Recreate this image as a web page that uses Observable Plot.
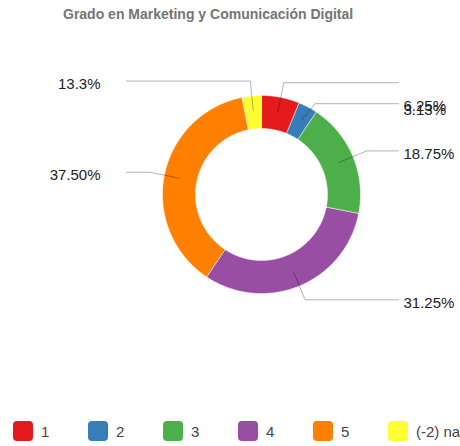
<!DOCTYPE html>
<html><head><meta charset="utf-8">
<script src="https://cdn.jsdelivr.net/npm/d3@7"></script>
<script src="https://cdn.jsdelivr.net/npm/@observablehq/plot@0.6"></script>
<style>
body{margin:0;background:#fff;font-family:"Liberation Sans",Arial,sans-serif}
#title{height:28px;line-height:28px;font-size:14px;font-weight:bold;color:#757575;padding-left:63px;white-space:nowrap}
#legend{position:relative;height:38px}
.item{position:absolute;top:13px;display:flex;align-items:center;font-size:15px;color:#444;white-space:nowrap}
.sw{width:20px;height:20px;border-radius:4px;margin-right:8px;flex:none}
</style>
</head><body>
<div id="title"></div>
<div id="chart"></div>
<div id="legend"></div>
<script>
const title = "Grado en Marketing y Comunicación Digital";
const categories = ["1", "2", "3", "4", "5", "(-2) na"];
const percents = [6.25, 3.125, 18.75, 31.25, 37.5, 3.125];
const labels = ["6.25%", "3.13%", "18.75%", "31.25%", "37.50%", "13.3%"];
const colors = ["#e41a1c", "#377eb8", "#4daf4a", "#984ea3", "#ff7f00", "#ffff33"];

document.getElementById("title").textContent = title;

const W = 460, H = 380;
const cx = 261, cy = 166, R = 99, R0 = 66;
const pt = (a, r) => [cx + r * Math.sin(a), cy - r * Math.cos(a)];

const arcs = d3.pie().sort(null).value(d => d)(percents);

// slice polygons
const sliceRows = [];
arcs.forEach((a, i) => {
  const n = Math.max(4, Math.ceil((a.endAngle - a.startAngle) / 0.01));
  for (let k = 0; k <= n; k++) {
    const t = a.startAngle + (a.endAngle - a.startAngle) * k / n;
    const [x, y] = pt(t, R);
    sliceRows.push({cat: categories[i], x, y});
  }
  for (let k = n; k >= 0; k--) {
    const t = a.startAngle + (a.endAngle - a.startAngle) * k / n;
    const [x, y] = pt(t, R0);
    sliceRows.push({cat: categories[i], x, y});
  }
});

// leader lines with simple collision avoidance
const leaders = arcs.map((a, i) => {
  const m = (a.startAngle + a.endAngle) / 2;
  const p1 = pt(m, 84), p2 = pt(m, 114);
  const right = Math.sin(m) >= 0;
  return {i, m, right, p1, ex: p2[0], ey: p2[1], ly: p2[1]};
});
for (const side of [true, false]) {
  const g = leaders.filter(d => d.right === side).sort((a, b) => a.ey - b.ey);
  for (let k = 1; k < g.length; k++) {
    if (g[k].ly < g[k - 1].ly + 21) g[k].ly = g[k - 1].ly + 21;
  }
  // text position: crowded labels collapse onto the following line
  for (let k = 0; k < g.length; k++) {
    g[k].ty = g[k].ly + 3;
    if (k + 1 < g.length && g[k + 1].ly - g[k].ly < 24) g[k].ty = g[k + 1].ly + 2;
    if (k > 0 && g[k].ly - g[k - 1].ly < 24) g[k].ty = g[k].ly + 6;
  }
}
const lineRows = [];
leaders.forEach(d => {
  const xEnd = d.right ? cx + 137 : cx - 135;
  lineRows.push({k: d.i, x: d.p1[0], y: d.p1[1]});
  lineRows.push({k: d.i, x: d.ex, y: d.ly});
  lineRows.push({k: d.i, x: xEnd, y: d.ly});
});
const textRows = leaders.map(d => ({
  text: labels[d.i],
  right: d.right,
  x: d.right ? cx + 142 : cx - 161,
  y: d.ty
}));

const chart = Plot.plot({
  width: W, height: H,
  margin: 0,
  x: {domain: [0, W], range: [0, W], axis: null},
  y: {domain: [0, H], range: [0, H], axis: null},
  color: {domain: categories, range: colors},
  style: {fontFamily: '"Liberation Sans", Arial, sans-serif', background: "#fff"},
  marks: [
    Plot.line(sliceRows, {x: "x", y: "y", z: "cat", fill: "cat", stroke: "#fff", strokeWidth: 0.5, curve: "linear-closed"}),
    Plot.line(lineRows, {x: "x", y: "y", z: "k", stroke: "#000", strokeOpacity: 0.3, strokeWidth: 1}),
    Plot.text(textRows.filter(d => d.right), {x: "x", y: "y", text: "text", textAnchor: "start", fontSize: 15, fill: "#222"}),
    Plot.text(textRows.filter(d => !d.right), {x: "x", y: "y", text: "text", textAnchor: "end", fontSize: 15, fill: "#222"})
  ]
});
document.getElementById("chart").appendChild(chart);

const legend = document.getElementById("legend");
categories.forEach((c, i) => {
  const it = document.createElement("div");
  it.className = "item";
  it.style.left = (13 + 75 * i) + "px";
  const sw = document.createElement("div");
  sw.className = "sw";
  sw.style.background = colors[i];
  const tx = document.createElement("span");
  tx.textContent = c;
  it.appendChild(sw); it.appendChild(tx);
  legend.appendChild(it);
});
</script>
</body></html>
